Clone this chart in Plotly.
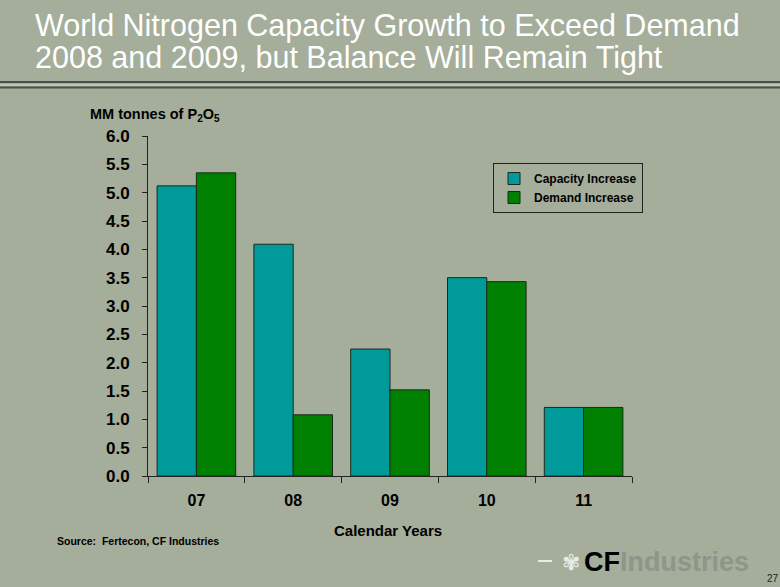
import plotly.graph_objects as go

years = ["07", "08", "09", "10", "11"]
capacity = [5.12, 4.09, 2.24, 3.50, 1.21]
demand = [5.35, 1.08, 1.52, 3.43, 1.21]
y_ticks = [0.0, 0.5, 1.0, 1.5, 2.0, 2.5, 3.0, 3.5, 4.0, 4.5, 5.0, 5.5, 6.0]

BG = "#A5AD9B"
FONT = "Liberation Sans, Arial, sans-serif"
PL, PR, PT, PB = 148, 632, 136, 476

fig = go.Figure()
fig.add_trace(go.Bar(x=years, y=capacity, name="Capacity Increase",
                     marker=dict(color="#009A9A", line=dict(color="#1a2a1a", width=1))))
fig.add_trace(go.Bar(x=years, y=demand, name="Demand Increase",
                     marker=dict(color="#008000", line=dict(color="#1a2a1a", width=1))))

fig.update_layout(
    width=780, height=587,
    paper_bgcolor=BG, plot_bgcolor=BG,
    margin=dict(l=PL, r=780 - PR, t=PT, b=587 - PB),
    barmode="group", bargap=0.188, bargroupgap=0,
    font=dict(family=FONT, color="black"),
    showlegend=True,
    legend=dict(x=(493 - PL) / (PR - PL), y=(PB - 163) / (PB - PT), xanchor="left", yanchor="top",
                xref="paper", yref="paper",
                bgcolor=BG, bordercolor="#222", borderwidth=1,
                font=dict(family=FONT, size=12, color="black", weight="bold"),
                tracegroupgap=0, itemwidth=30),
)
fig.update_xaxes(type="category", showline=True, linecolor="#222", linewidth=1,
                 ticks="outside", tickson="boundaries", ticklen=6, tickcolor="#222",
                 ticklabelstandoff=10,
                 tickfont=dict(size=16, family=FONT, weight="bold"), showgrid=False)
fig.update_yaxes(range=[0, 6], tickvals=y_ticks, ticktext=[f"{v:.1f}" for v in y_ticks],
                 showline=True, linecolor="#222", linewidth=1,
                 ticks="outside", ticklen=5, tickcolor="#222", ticklabelstandoff=9,
                 tickfont=dict(size=17, family=FONT, weight="bold"), showgrid=False,
                 zeroline=False)


def px_anno(text, x, y, size, color="black", bold=True, xanchor="left"):
    xp = (x - PL) / (PR - PL)
    yp = (PB - y) / (PB - PT)
    fig.add_annotation(text=text, x=xp, y=yp, xref="paper", yref="paper",
                       xanchor=xanchor, yanchor="middle", showarrow=False,
                       font=dict(family=FONT, size=size, color=color, weight="bold" if bold else "normal"))


def px_shape(x0, y0, x1, y1, color, width):
    fig.add_shape(type="line", xref="paper", yref="paper",
                  x0=(x0 - PL) / (PR - PL), x1=(x1 - PL) / (PR - PL),
                  y0=(PB - y0) / (PB - PT), y1=(PB - y1) / (PB - PT),
                  line=dict(color=color, width=width))


px_anno("World Nitrogen Capacity Growth to Exceed Demand", 33, 25, 30.5, "white", False)
px_anno("2008 and 2009, but Balance Will Remain Tight", 33, 58, 30.5, "white", False)
px_anno("MM tonnes of P<sub>2</sub>O<sub>5</sub>", 88, 115, 14.5)
px_anno("Calendar Years", 388, 530, 15, xanchor="center")
px_anno("Source:  Fertecon, CF Industries", 55, 541, 10.5)
px_anno("<b>CF</b><span style='color:#8e968a'>Industries</span>", 582, 562, 27, "black", True)
px_anno("<span style='color:#e9ece6'>✾</span>", 560, 562, 22, "white", False)
px_anno("27", 765, 578, 10, "#222", False)

px_shape(0, 82, 780, 82, "#4a4f46", 2)
px_shape(0, 85, 780, 85, "#c8cdc2", 1.5)
px_shape(0, 87.5, 780, 87.5, "#4a4f46", 2)
px_shape(538, 561, 552, 561, "#e9ece6", 2)

fig.write_html("out.html", config={"displayModeBar": False},
               post_script="document.body.style.margin='0';")
